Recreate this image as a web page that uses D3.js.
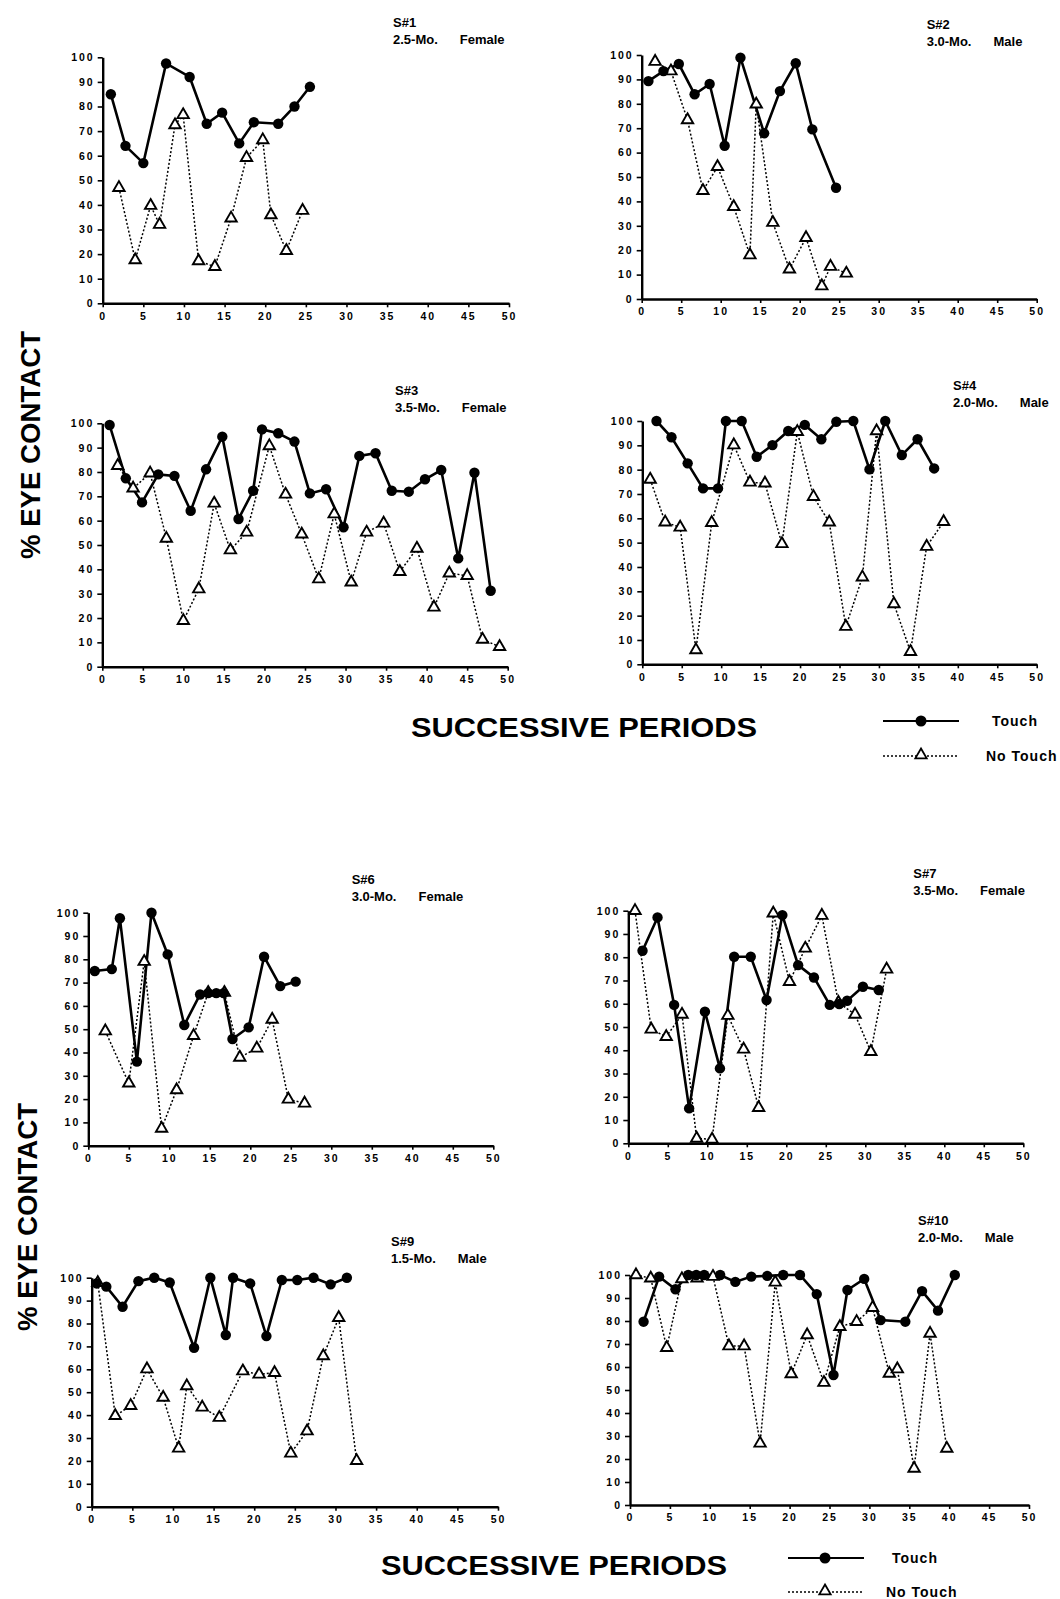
<!DOCTYPE html>
<html>
<head>
<meta charset="utf-8">
<script src="https://cdn.jsdelivr.net/npm/d3@7/dist/d3.min.js"></script>
<style>
  body { margin: 0; background: #fff; }
  text { font-family: "Liberation Sans", Arial, sans-serif; font-weight: bold; fill: #000; }
</style>
</head>
<body>
<div id="chart"></div>
<script>
const width = 1060;
const height = 1599;

// tick values shared by every panel
const xTicks = d3.range(0, 51, 5);
const yTicks = d3.range(0, 101, 10);

// panel titles
const subjects = ["S#1", "S#2", "S#3", "S#4", "S#6", "S#7", "S#9", "S#10"];
const ages = ["2.5-Mo.", "3.0-Mo.", "3.5-Mo.", "2.0-Mo.", "3.0-Mo.", "3.5-Mo.", "1.5-Mo.", "2.0-Mo."];
const sexes = ["Female", "Male", "Female", "Male", "Female", "Female", "Male", "Male"];

// [period, % eye contact]
const s1Touch = [[1,85],[2.8,64],[5,57],[7.8,97.5],[10.7,92],[12.8,73],[14.7,77.5],[16.8,65],[18.6,73.6],[21.6,73],[23.6,80],[25.5,88]];
const s1NoTouch = [[2,47],[4,17.6],[5.9,39.7],[7,32],[8.9,72.5],[9.9,76.6],[11.8,17.2],[13.8,14.9],[15.8,34.6],[17.7,59.2],[19.7,66.4],[20.7,35.9],[22.6,21.4],[24.6,37.7]];

const s2Touch = [[0.85,89.3],[2.75,93.4],[4.7,96.3],[6.7,83.9],[8.6,88.1],[10.5,62.8],[12.5,98.9],[15.5,67.9],[17.5,85.2],[19.5,96.6],[21.6,69.5],[24.6,45.6]];
const s2NoTouch = [[1.7,97.3],[3.7,93.4],[5.8,73.4],[7.75,44.4],[9.6,54.2],[11.65,37.8],[13.7,18],[14.5,79.8],[16.6,31.3],[18.7,12.2],[20.8,25.1],[22.8,5.3],[23.9,13.3],[25.9,10.5]];

const s3Touch = [[0.9,99.3],[2.9,77.4],[4.9,67.5],[6.9,79],[8.9,78.4],[10.9,64],[12.8,81.1],[14.8,94.5],[16.8,60.7],[18.6,72.3],[19.7,97.5],[21.7,95.9],[23.7,92.5],[25.6,71.2],[27.6,72.9],[29.75,57.3],[31.7,86.6],[33.7,87.7],[35.7,72.3],[37.8,71.9],[39.8,77],[41.8,80.8],[43.9,44.5],[45.9,79.7],[47.9,31.2]];
const s3NoTouch = [[1.9,82.6],[3.8,73.3],[5.9,79.5],[7.9,52.7],[10,18.9],[11.9,31.9],[13.8,67.1],[15.8,47.9],[17.8,55.2],[20.6,90.7],[22.6,70.8],[24.6,54.4],[26.7,36],[28.6,62.7],[30.7,34.7],[32.6,55.2],[34.7,58.9],[36.7,39],[38.8,48.6],[40.9,24.4],[42.8,38.4],[45,37.4],[46.9,11.2],[49,8.2]];

const s4Touch = [[1.8,100],[3.7,93.3],[5.75,82.6],[7.7,72.3],[9.6,72.3],[10.6,100],[12.6,100],[14.5,85.3],[16.5,90.1],[18.5,95.9],[20.6,98.4],[22.7,92.5],[24.6,99.7],[26.75,100],[28.8,80.1],[30.8,100],[32.9,86],[34.9,92.5],[37,80.5]];
const s4NoTouch = [[1,76],[2.9,58.4],[4.8,56.3],[6.8,5.9],[8.8,58.2],[11.6,90.1],[13.65,74.8],[15.55,74.4],[17.7,49.5],[19.65,95.6],[21.7,68.9],[23.7,58.4],[25.8,15.5],[27.9,35.8],[29.7,95.9],[31.9,24.8],[34,5.2],[36.05,48.4],[38.2,58.6]];

const s6Touch = [[0.8,75],[2.9,75.8],[3.9,97.6],[6,36.1],[7.8,100],[9.8,82.1],[11.85,51.8],[13.8,64.9],[14.8,65.5],[15.8,65.5],[16.7,65.5],[17.8,45.8],[19.8,50.8],[21.7,81.1],[23.7,68.5],[25.6,70.4]];
const s6NoTouch = [[2.1,49.2],[5,26.8],[6.9,79],[9.05,7.4],[10.9,23.9],[13,47.2],[14.8,65.7],[16.8,65.7],[18.7,37.9],[20.8,41.8],[22.7,54.2],[24.7,19.9],[26.7,18.2]];

const s7Touch = [[1.8,82.8],[3.7,97.1],[5.8,59.5],[7.7,15],[9.7,56.6],[11.6,32.2],[13.4,80.2],[15.5,80.2],[17.5,61.6],[19.5,98.1],[21.5,76.6],[23.5,71.3],[25.5,59.5],[26.7,59.9],[27.7,61.3],[29.7,67.3],[31.7,65.9]];
const s7NoTouch = [[0.85,100],[2.9,49],[4.8,45.8],[6.8,55.4],[8.65,2.1],[10.6,1.7],[12.6,54.9],[14.6,40.4],[16.5,15.3],[18.35,98.9],[20.4,69.5],[22.4,83.8],[24.5,97.9],[26.6,60.5],[28.7,55.4],[30.7,39.4],[32.7,74.8]];

const s9Touch = [[0.6,97.5],[1.8,96.1],[3.8,87.3],[5.75,98.5],[7.7,100],[9.6,97.9],[12.6,69.4],[14.6,100],[16.5,75],[17.4,100],[19.5,97.5],[21.5,74.5],[23.4,99],[25.3,99],[27.3,100],[29.4,97.1],[31.4,100]];
const s9NoTouch = [[0.75,97.8],[2.9,39.7],[4.8,44.1],[6.8,60.1],[8.8,47.7],[10.7,25.5],[11.7,52.7],[13.6,43.4],[15.7,38.9],[18.6,59.2],[20.6,57.8],[22.5,58.5],[24.5,23.3],[26.5,33],[28.5,65.8],[30.4,82.5],[32.6,20.1]];

const s10Touch = [[1.7,79.7],[3.65,99.3],[5.7,93.8],[7.3,100],[8.3,100],[9.3,100],[11.3,100],[13.2,97],[15.2,99.3],[17.2,99.6],[19.2,100],[21.3,100],[23.4,91.7],[25.5,56.5],[27.25,93.5],[29.35,98.3],[31.4,80.4],[34.5,79.7],[36.6,93],[38.6,84.5],[40.7,100]];
const s10NoTouch = [[0.75,100],[2.6,98.6],[4.6,68.4],[6.5,98.3],[8.4,98.6],[10.4,99.3],[12.4,69.1],[14.3,69.1],[16.3,26.8],[18.2,96.8],[20.2,57],[22.2,73.9],[24.3,53.2],[26.3,77.5],[28.4,79.7],[30.4,85.8],[32.5,57.2],[33.5,59.1],[35.6,15.9],[37.6,74.6],[39.7,24.6]];

const touchSeries = [s1Touch, s2Touch, s3Touch, s4Touch, s6Touch, s7Touch, s9Touch, s10Touch];
const noTouchSeries = [s1NoTouch, s2NoTouch, s3NoTouch, s4NoTouch, s6NoTouch, s7NoTouch, s9NoTouch, s10NoTouch];

// pixel frame of each panel: left/right of x axis (0..50), top/bottom of y axis (100..0), title spot
const frames = [
  { l: 102.7, r: 509,    t: 57.3,  b: 303.3,  tx: 393,   ty: 27 },
  { l: 641.7, r: 1036.7, t: 55,    b: 299,    tx: 926.7, ty: 29 },
  { l: 102.3, r: 507.7,  t: 423.3, b: 666.7,  tx: 395,   ty: 395 },
  { l: 642.3, r: 1036.7, t: 421,   b: 664.3,  tx: 953,   ty: 390 },
  { l: 88.3,  r: 493.3,  t: 912.7, b: 1145.7, tx: 351.7, ty: 884 },
  { l: 628.3, r: 1023.3, t: 910.7, b: 1143.3, tx: 913.3, ty: 878 },
  { l: 91.7,  r: 498,    t: 1277.7,b: 1506.7, tx: 391,   ty: 1246 },
  { l: 630,   r: 1029,   t: 1275,  b: 1505,   tx: 918,   ty: 1225 }
];

const svg = d3
  .select("#chart")
  .append("svg")
  .attr("width", width)
  .attr("height", height);

const triangle = d3.symbol(d3.symbolTriangle, 56);
const dotted = "2,2";

const renderPanel = (i) => {
  const f = frames[i];
  const x = d3.scaleLinear().domain([0, 50]).range([f.l, f.r]);
  const y = d3.scaleLinear().domain([0, 100]).range([f.b, f.t]);
  const g = svg.append("g");

  const xAxis = g
    .append("g")
    .attr("transform", `translate(0 ${f.b})`)
    .call(d3.axisBottom(x).tickValues(xTicks).tickSize(4).tickSizeOuter(0).tickPadding(5));
  const yAxis = g
    .append("g")
    .attr("transform", `translate(${f.l} 0)`)
    .call(d3.axisLeft(y).tickValues(yTicks).tickSize(5).tickSizeOuter(0).tickPadding(3));

  [xAxis, yAxis].forEach((a) => {
    a.select(".domain").attr("stroke-width", 2.4);
    a.selectAll(".tick line").attr("stroke-width", 1.6);
    a.selectAll("text")
      .attr("font-size", 10.5)
      .attr("font-weight", "bold")
      .attr("letter-spacing", 2)
      .attr("font-family", "Liberation Sans, Arial, sans-serif");
  });

  const line = d3.line().x((d) => x(d[0])).y((d) => y(d[1]));

  g.append("path")
    .datum(noTouchSeries[i])
    .attr("d", line)
    .attr("fill", "none")
    .attr("stroke", "#000")
    .attr("stroke-width", 1.5)
    .attr("stroke-dasharray", dotted);

  g.append("path")
    .datum(touchSeries[i])
    .attr("d", line)
    .attr("fill", "none")
    .attr("stroke", "#000")
    .attr("stroke-width", 2.6);

  g.selectAll(".tri")
    .data(noTouchSeries[i])
    .join("path")
    .attr("d", triangle)
    .attr("transform", (d) => `translate(${x(d[0])} ${y(d[1])})`)
    .attr("fill", "#fff")
    .attr("stroke", "#000")
    .attr("stroke-width", 1.9);

  g.selectAll("circle")
    .data(touchSeries[i])
    .join("circle")
    .attr("cx", (d) => x(d[0]))
    .attr("cy", (d) => y(d[1]))
    .attr("r", 5.2)
    .attr("fill", "#000");

  const title = g.append("text").attr("font-size", 13);
  title.append("tspan").attr("x", f.tx).attr("y", f.ty).text(subjects[i]);
  title.append("tspan").attr("x", f.tx).attr("y", f.ty + 17).text(ages[i]);
  title.append("tspan").attr("dx", 22).text(sexes[i]);
};

for (let i = 0; i < frames.length; i++) {
  renderPanel(i);
}

// shared axis titles
const yTitles = [{ x: 40, y: 445 }, { x: 37, y: 1217 }];
yTitles.forEach((p) => {
  svg.append("text")
    .attr("transform", `translate(${p.x} ${p.y}) rotate(-90)`)
    .attr("text-anchor", "middle")
    .attr("font-size", 28)
    .attr("textLength", 228)
    .attr("lengthAdjust", "spacingAndGlyphs")
    .text("% EYE CONTACT");
});

const xTitles = [{ x: 584, y: 737 }, { x: 554, y: 1575 }];
xTitles.forEach((p) => {
  svg.append("text")
    .attr("x", p.x)
    .attr("y", p.y)
    .attr("text-anchor", "middle")
    .attr("font-size", 27)
    .attr("textLength", 346)
    .attr("lengthAdjust", "spacingAndGlyphs")
    .text("SUCCESSIVE PERIODS");
});

// legends
const legendSpots = [
  { x: 883, y: 721, mark: 921, tx: 992, gap: 35 },
  { x: 788, y: 1558, mark: 825, tx: 892, gap: 34 }
];
legendSpots.forEach((p) => {
  const lg = svg.append("g");
  lg.append("line")
    .attr("x1", p.x).attr("x2", p.x + 76)
    .attr("y1", p.y).attr("y2", p.y)
    .attr("stroke", "#000").attr("stroke-width", 2.2);
  lg.append("circle").attr("cx", p.mark).attr("cy", p.y).attr("r", 5.5).attr("fill", "#000");
  lg.append("text").attr("x", p.tx).attr("y", p.y + 5).attr("font-size", 14).attr("letter-spacing", 1).text("Touch");

  const y2 = p.y + p.gap;
  lg.append("line")
    .attr("x1", p.x).attr("x2", p.x + 76)
    .attr("y1", y2).attr("y2", y2)
    .attr("stroke", "#000").attr("stroke-width", 1.3)
    .attr("stroke-dasharray", dotted);
  lg.append("path")
    .attr("d", triangle)
    .attr("transform", `translate(${p.mark} ${y2 - 1})`)
    .attr("fill", "#fff").attr("stroke", "#000").attr("stroke-width", 1.8);
  lg.append("text").attr("x", p.tx - 6).attr("y", y2 + 5).attr("font-size", 14).attr("letter-spacing", 1).text("No Touch");
});
</script>
</body>
</html>
